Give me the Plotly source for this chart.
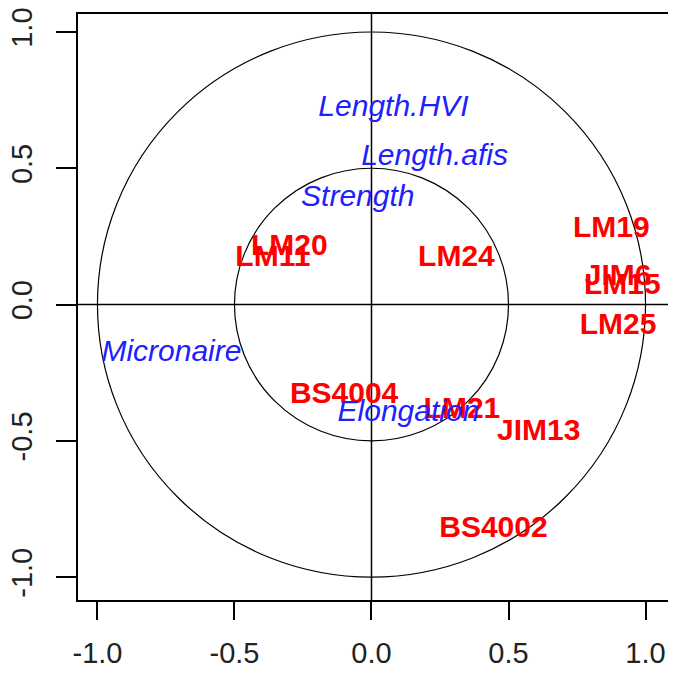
import plotly.graph_objects as go

# Variables (blue, italic)
var_names = ["Length.HVI", "Length.afis", "Strength", "Micronaire", "Elongation"]
var_x = [0.08, 0.23, -0.05, -0.73, 0.135]
var_y = [0.72, 0.54, 0.39, -0.18, -0.40]

# Individuals (red, bold)
ind_names = ["LM20", "LM11", "LM24", "LM19", "JIM6", "LM15", "LM25",
             "BS4004", "LM21", "JIM13", "BS4002"]
ind_x = [-0.30, -0.36, 0.31, 0.875, 0.90, 0.915, 0.90, -0.10, 0.33, 0.61, 0.445]
ind_y = [0.21, 0.17, 0.17, 0.275, 0.10, 0.065, -0.08, -0.335, -0.39, -0.47, -0.825]

radii = [1.0, 0.5]
tick_vals = [-1.0, -0.5, 0.0, 0.5, 1.0]
tick_text = ["-1.0", "-0.5", "0.0", "0.5", "1.0"]

FONT = "Liberation Sans, Arial, sans-serif"

fig = go.Figure()

fig.add_trace(go.Scatter(
    x=ind_x, y=ind_y, text=ind_names, mode="text",
    textfont=dict(family=FONT, size=30, color="#FF0000", weight="bold"),
    showlegend=False, hoverinfo="skip"))

fig.add_trace(go.Scatter(
    x=var_x, y=var_y, text=var_names, mode="text",
    textfont=dict(family=FONT, size=30, color="#2020FF", style="italic"),
    showlegend=False, hoverinfo="skip"))

shapes = []
for r in radii:
    shapes.append(dict(type="circle", xref="x", yref="y",
                       x0=-r, y0=-r, x1=r, y1=r,
                       line=dict(color="black", width=1.2), layer="below"))
shapes.append(dict(type="line", xref="x", yref="paper", x0=0, x1=0, y0=0, y1=1,
                   line=dict(color="black", width=1.5), layer="below"))
shapes.append(dict(type="line", xref="paper", yref="y", x0=0, x1=1, y0=0, y1=0,
                   line=dict(color="black", width=1.5), layer="below"))

axis_common = dict(
    showgrid=False, zeroline=False, showline=True, mirror=True,
    linecolor="black", linewidth=1.5, automargin=False,
    ticks="outside", tickwidth=1.5, tickcolor="black",
    tickvals=tick_vals, ticktext=tick_text, ticklabeloverflow="allow",
    tickfont=dict(family=FONT, size=29, color="#222222"),
)

fig.update_layout(
    width=668, height=658,
    margin=dict(l=70, r=8, t=6, b=66),
    paper_bgcolor="white", plot_bgcolor="white",
    shapes=shapes,
    xaxis=dict(range=[-1.071, 1.082], ticklen=18, ticklabelstandoff=8,
               **axis_common),
    yaxis=dict(range=[-1.084, 1.066], tickangle=-90, ticklen=20,
               ticklabelstandoff=13, **axis_common),
)

fig.write_html("out.html")
